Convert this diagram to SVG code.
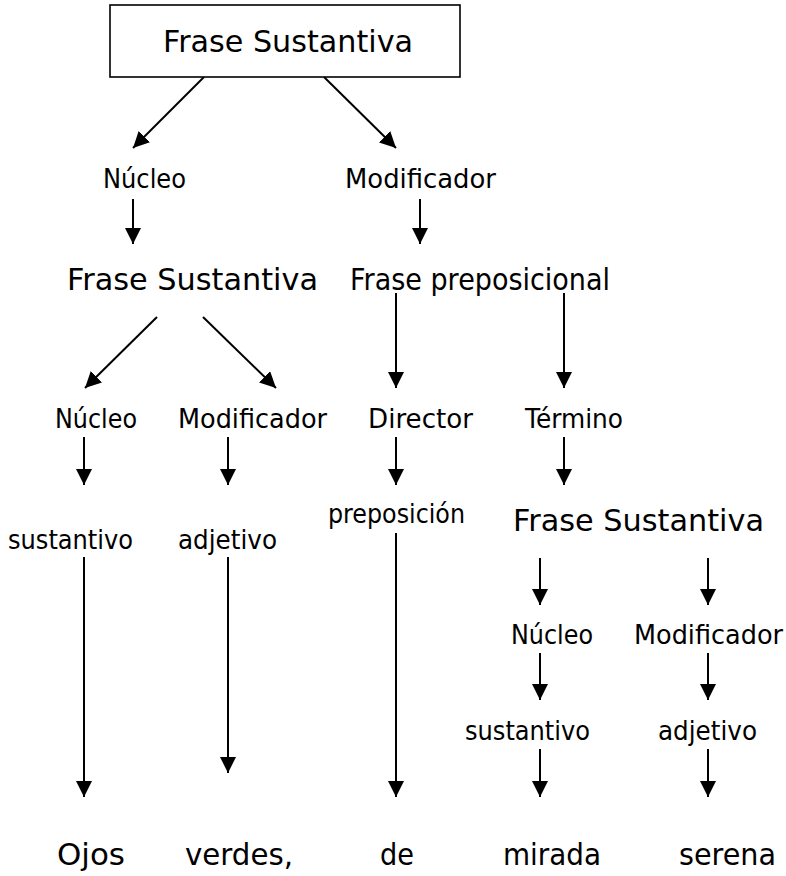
<svg xmlns="http://www.w3.org/2000/svg" width="786" height="876" viewBox="0 0 786 876">
<style>
text{font-family:"DejaVu Sans","Liberation Sans",sans-serif;fill:#000}
.h{font-size:31px}
.l{font-size:26px}
.w{font-size:31px}
.c{stroke:#000;stroke-width:2;fill:none;marker-end:url(#ah)}
.box{fill:#fff;stroke:#000;stroke-width:1.6}
</style>
<defs>
<marker id="ah" markerUnits="userSpaceOnUse" markerWidth="16" markerHeight="16" viewBox="0 0 15 15" refX="15" refY="7.5" orient="auto">
<path d="M0,0 L15,7.5 L0,15 Z" fill="#000"/>
</marker>
</defs>
<rect width="786" height="876" fill="#fff"/>
<g id="connectors">
<line class="c" x1="204" y1="77" x2="133" y2="148"/>
<line class="c" x1="324" y1="77" x2="396" y2="148"/>
<line class="c" x1="133" y1="199" x2="133" y2="244"/>
<line class="c" x1="420" y1="199" x2="420" y2="244"/>
<line class="c" x1="157" y1="317" x2="85" y2="388"/>
<line class="c" x1="203" y1="317" x2="276" y2="388"/>
<line class="c" x1="396" y1="293" x2="396" y2="388"/>
<line class="c" x1="564" y1="293" x2="564" y2="388"/>
<line class="c" x1="84" y1="437" x2="84" y2="485"/>
<line class="c" x1="228" y1="437" x2="228" y2="485"/>
<line class="c" x1="396" y1="437" x2="396" y2="485"/>
<line class="c" x1="564" y1="437" x2="564" y2="485"/>
<line class="c" x1="84" y1="557" x2="84" y2="797"/>
<line class="c" x1="228" y1="557" x2="228" y2="773"/>
<line class="c" x1="396" y1="533" x2="396" y2="797"/>
<line class="c" x1="540" y1="558" x2="540" y2="605"/>
<line class="c" x1="708" y1="558" x2="708" y2="605"/>
<line class="c" x1="540" y1="653" x2="540" y2="700"/>
<line class="c" x1="708" y1="653" x2="708" y2="700"/>
<line class="c" x1="540" y1="749" x2="540" y2="797"/>
<line class="c" x1="708" y1="749" x2="708" y2="797"/>
</g>
<g id="root"><rect class="box" x="110" y="5" width="350" height="72"/><text class="h" x="163" y="52" textLength="250" lengthAdjust="spacingAndGlyphs">Frase Sustantiva</text></g>
<g id="nucleo1"><text class="l" x="103" y="188" textLength="83" lengthAdjust="spacingAndGlyphs">Núcleo</text></g>
<g id="modificador1"><text class="l" x="345" y="188" textLength="151" lengthAdjust="spacingAndGlyphs">Modificador</text></g>
<g id="fs2"><text class="h" x="67" y="290" textLength="251" lengthAdjust="spacingAndGlyphs">Frase Sustantiva</text></g>
<g id="fprep"><text class="h" x="350" y="290" textLength="260" lengthAdjust="spacingAndGlyphs">Frase preposicional</text></g>
<g id="nucleo2"><text class="l" x="55" y="428" textLength="82" lengthAdjust="spacingAndGlyphs">Núcleo</text></g>
<g id="modificador2"><text class="l" x="178" y="428" textLength="149" lengthAdjust="spacingAndGlyphs">Modificador</text></g>
<g id="director"><text class="l" x="368" y="428" textLength="105" lengthAdjust="spacingAndGlyphs">Director</text></g>
<g id="termino"><text class="l" x="525" y="428" textLength="98" lengthAdjust="spacingAndGlyphs">Término</text></g>
<g id="sustantivo1"><text class="l" x="8" y="549" textLength="125" lengthAdjust="spacingAndGlyphs">sustantivo</text></g>
<g id="adjetivo1"><text class="l" x="178" y="549" textLength="99" lengthAdjust="spacingAndGlyphs">adjetivo</text></g>
<g id="preposicion"><text class="l" x="328" y="523" textLength="137" lengthAdjust="spacingAndGlyphs">preposición</text></g>
<g id="fs3"><text class="h" x="513" y="531" textLength="251" lengthAdjust="spacingAndGlyphs">Frase Sustantiva</text></g>
<g id="nucleo3"><text class="l" x="511" y="644" textLength="82" lengthAdjust="spacingAndGlyphs">Núcleo</text></g>
<g id="modificador3"><text class="l" x="634" y="644" textLength="149" lengthAdjust="spacingAndGlyphs">Modificador</text></g>
<g id="sustantivo2"><text class="l" x="465" y="740" textLength="125" lengthAdjust="spacingAndGlyphs">sustantivo</text></g>
<g id="adjetivo2"><text class="l" x="658" y="740" textLength="99" lengthAdjust="spacingAndGlyphs">adjetivo</text></g>
<g id="w-ojos"><text class="w" x="57" y="865" textLength="68" lengthAdjust="spacingAndGlyphs">Ojos</text></g>
<g id="w-verdes"><text class="w" x="185" y="865" textLength="108" lengthAdjust="spacingAndGlyphs">verdes,</text></g>
<g id="w-de"><text class="w" x="380" y="865" textLength="34" lengthAdjust="spacingAndGlyphs">de</text></g>
<g id="w-mirada"><text class="w" x="503" y="865" textLength="98" lengthAdjust="spacingAndGlyphs">mirada</text></g>
<g id="w-serena"><text class="w" x="679" y="865" textLength="97" lengthAdjust="spacingAndGlyphs">serena</text></g>
</svg>
